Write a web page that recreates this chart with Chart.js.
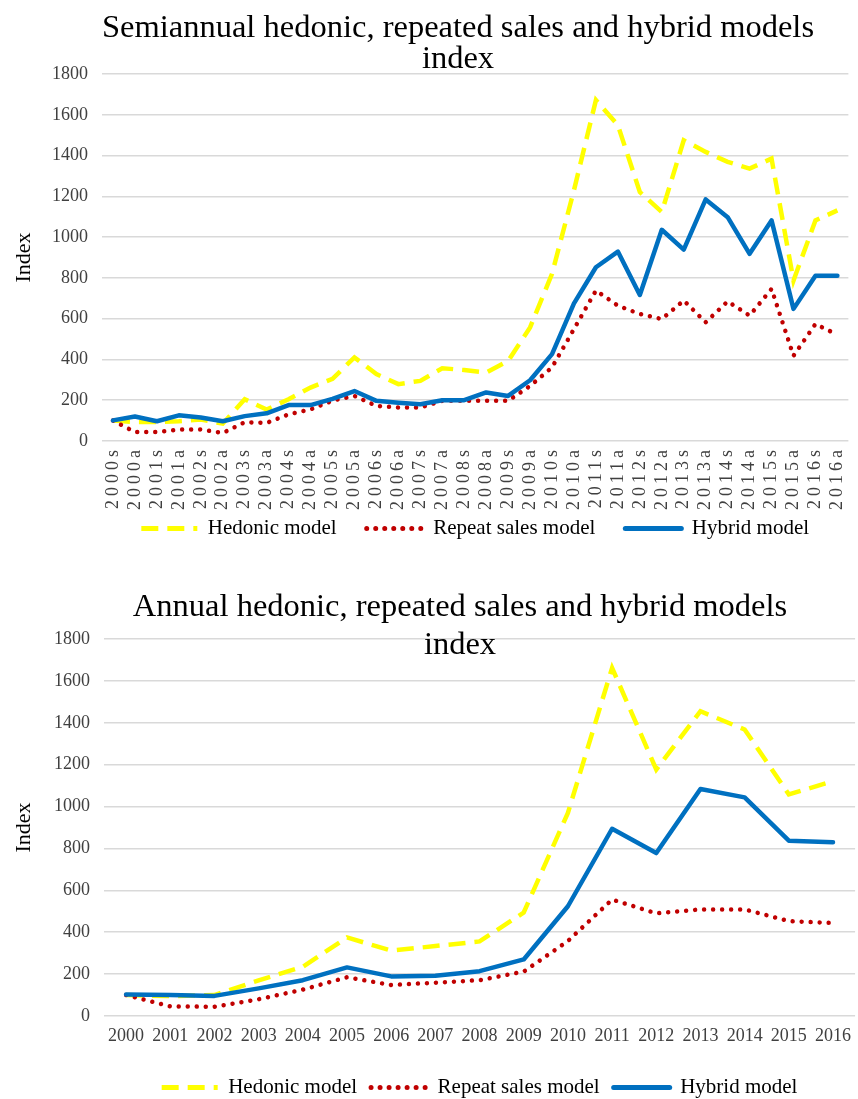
<!DOCTYPE html>
<html>
<head>
<meta charset="utf-8">
<script src="https://cdn.jsdelivr.net/npm/chart.js@4.4.1/dist/chart.umd.min.js"></script>
<style>
  html, body { margin: 0; padding: 0; background: #fff; overflow: hidden; width: 858px; height: 1099px; }
  .box { position: absolute; left: 0; }
  #topBox { top: 0; width: 864px; height: 552px; }
  #bottomBox { top: 552px; width: 860px; height: 556px; }
</style>
</head>
<body>
<div class="box" id="topBox"><canvas id="semiChart"></canvas></div>
<div class="box" id="bottomBox"><canvas id="annualChart"></canvas></div>
<script>
// semiannual periods (s = first half, a = second half)
const semiLabels = ['2000s','2000a','2001s','2001a','2002s','2002a','2003s','2003a','2004s','2004a',
  '2005s','2005a','2006s','2006a','2007s','2007a','2008s','2008a','2009s','2009a',
  '2010s','2010a','2011s','2011a','2012s','2012a','2013s','2013a','2014s','2014a',
  '2015s','2015a','2016s','2016a'];
const semiHedonic = [100, 93, 93, 97, 105, 85, 205, 154, 205, 262,
  305, 410, 328, 279, 295, 357, 348, 336, 393, 557,
  820, 1230, 1672, 1549, 1221, 1123, 1475, 1418, 1369, 1336,
  1385, 787, 1082, 1131];
const semiRepeat = [100, 44, 44, 56, 57, 39, 92, 89, 131, 155,
  198, 221, 172, 164, 164, 197, 197, 197, 197, 270,
  361, 549, 738, 664, 623, 598, 689, 582, 685, 615,
  746, 418, 574, 521];
const semiHybrid = [101, 120, 97, 126, 115, 97, 122, 136, 176, 176,
  207, 245, 197, 188, 180, 200, 200, 238, 221, 298,
  426, 675, 852, 929, 716, 1036, 939, 1185, 1098, 918,
  1082, 648, 811, 811];

// annual
const annualLabels = ['2000','2001','2002','2003','2004','2005','2006','2007','2008',
  '2009','2010','2011','2012','2013','2014','2015','2016'];
const annualHedonic = [100, 95, 100, 170, 235, 375, 312, 334, 356, 494, 970, 1662, 1177, 1455, 1368, 1058, 1121];
const annualRepeat = [100, 46, 44, 80, 126, 185, 148, 159, 171, 212, 358, 556, 490, 509, 509, 453, 444];
const annualHybrid = [103, 100, 96, 132, 171, 232, 189, 192, 214, 270, 524, 894, 778, 1084, 1044, 837, 830];

const seriesNames = ['Hedonic model', 'Repeat sales model', 'Hybrid model'];
const yTicksMax = 1800;
const yStep = 200;

const SERIF = '"Liberation Serif", "Times New Roman", serif';

function buildDatasets(hed, rep, hyb) {
  return [
    {
      label: seriesNames[0],
      data: hed,
      borderColor: '#FFFF00',
      backgroundColor: '#FFFF00',
      borderWidth: 4.5,
      borderDash: [17, 9],
      borderCapStyle: 'butt',
      order: 2
    },
    {
      label: seriesNames[1],
      data: rep,
      borderColor: '#C00000',
      backgroundColor: '#C00000',
      borderWidth: 4.5,
      borderDash: [0.01, 9],
      borderCapStyle: 'round',
      order: 1
    },
    {
      label: seriesNames[2],
      data: hyb,
      borderColor: '#0070C0',
      backgroundColor: '#0070C0',
      borderWidth: 4.5,
      borderCapStyle: 'round',
      borderJoinStyle: 'round',
      order: 0
    }
  ];
}

// legend lines should look like the series (dash, width, caps)
function legendLabels(chart) {
  const items = Chart.defaults.plugins.legend.labels.generateLabels(chart);
  return items.map(item => {
    const ds = chart.data.datasets[item.datasetIndex];
    item.strokeStyle = ds.borderColor;
    item.fillStyle = ds.borderColor;
    item.lineWidth = ds.borderWidth + 0.5;
    item.lineDash = ds.borderDash || [];
    item.lineCap = ds.borderCapStyle;
    item.pointStyle = 'line';
    return item;
  });
}

function makeChart(id, labels, hed, rep, hyb, cfg) {
  // spaced-out x labels like the original figure, not clipped to the axis box
  const spacing = {
    id: 'xLetterSpacing',
    beforeDraw(chart) {
      const s = chart.scales.x;
      if (!cfg.xSpacing || s._spaced) return;
      const orig = s.drawLabels;
      s._computeLabelArea = () => undefined;
      s.drawLabels = function (area) {
        this.ctx.save();
        this.ctx.letterSpacing = cfg.xSpacing;
        orig.call(this, area);
        this.ctx.restore();
      };
      s._spaced = true;
    }
  };

  // title centred over the plot like the original (not over the whole canvas)
  const figTitle = {
    id: 'figTitle',
    afterDraw(chart) {
      const ctx = chart.ctx;
      ctx.save();
      ctx.font = 'normal 32.5px ' + SERIF;
      ctx.fillStyle = '#000';
      ctx.textAlign = 'center';
      ctx.textBaseline = 'middle';
      cfg.title.forEach((line, i) => {
        ctx.fillText(line, cfg.titleX, cfg.titleY + i * cfg.titleLine);
      });
      ctx.restore();
    }
  };

  return new Chart(document.getElementById(id), {
    type: 'line',
    data: { labels: labels, datasets: buildDatasets(hed, rep, hyb) },
    plugins: [spacing, figTitle],
    options: {
      responsive: true,
      maintainAspectRatio: false,
      animation: false,
      layout: { padding: cfg.layoutPadding },
      elements: { point: { radius: 0, hoverRadius: 0 }, line: { tension: 0 } },
      plugins: {
        tooltip: { enabled: false },
        title: { display: false },
        legend: {
          position: 'bottom',
          fullSize: false,
          labels: {
            usePointStyle: true,
            pointStyle: 'line',
            pointStyleWidth: 56,
            color: '#000',
            padding: cfg.legendGap,
            font: { family: SERIF, size: 21 },
            generateLabels: legendLabels,
            sort: (a, b) => a.datasetIndex - b.datasetIndex
          }
        }
      },
      scales: {
        y: {
          min: 0,
          max: yTicksMax,
          afterFit: (scale) => { scale.width = cfg.yWidth; },
          ticks: {
            stepSize: yStep,
            color: '#404040',
            padding: 14,
            font: { family: SERIF, size: 18 },
            callback: (v) => String(v)
          },
          grid: { color: '#d9d9d9', lineWidth: 1.5, drawTicks: false },
          border: { display: false },
          title: {
            display: true,
            text: 'Index',
            color: '#000',
            font: { family: SERIF, size: 22 },
            padding: { top: 11, bottom: 0 }
          }
        },
        x: {
          offset: true,
          afterFit: (scale) => { scale.height = cfg.xHeight; },
          grid: { display: false, drawTicks: false },
          border: { display: false },
          ticks: {
            autoSkip: false,
            color: '#404040',
            padding: cfg.xPad,
            minRotation: cfg.rotation,
            maxRotation: cfg.rotation,
            font: { family: SERIF, size: 18 }
          }
        }
      }
    }
  });
}

makeChart('semiChart', semiLabels, semiHedonic, semiRepeat, semiHybrid, {
  title: ['Semiannual hedonic, repeated sales and hybrid models', 'index'],
  titleX: 458,
  titleY: 28,
  titleLine: 31,
  layoutPadding: { left: 0, right: 0, top: 74, bottom: 3 },
  legendGap: 30,
  yWidth: 102,
  xHeight: 47,
  xPad: 5,
  xSpacing: '4px',
  rotation: 90
});

makeChart('annualChart', annualLabels, annualHedonic, annualRepeat, annualHybrid, {
  title: ['Annual hedonic, repeated sales and hybrid models', 'index'],
  titleX: 460,
  titleY: 55,
  titleLine: 38,
  layoutPadding: { left: 0, right: 0, top: 87, bottom: 0 },
  legendGap: 14,
  yWidth: 104,
  xHeight: 47,
  xPad: 9,
  xSpacing: null,
  rotation: 0
});
</script>
</body>
</html>
